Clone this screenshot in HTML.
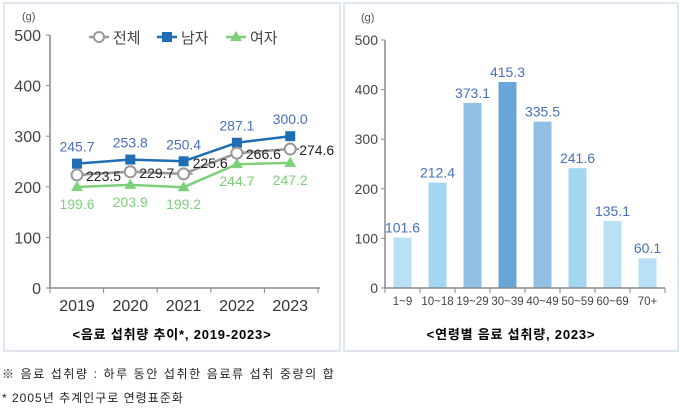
<!DOCTYPE html>
<html><head><meta charset="utf-8"><style>
body{margin:0;background:#fff;width:680px;height:409px;overflow:hidden;font-family:"Liberation Sans","Noto Sans CJK KR",sans-serif}
svg text{font-family:"Liberation Sans","Noto Sans CJK KR",sans-serif}
</style></head><body>
<svg width="680" height="409">
<rect x="4" y="3" width="336" height="348" fill="none" stroke="#dfe6ef" stroke-width="2"/>
<rect x="344" y="3" width="334" height="348" fill="none" stroke="#dfe6ef" stroke-width="2"/>
<g id="left"></g>
<g id="right"></g>
<text x="172" y="339" text-anchor="middle" font-size="13" font-weight="bold" letter-spacing="0.8">&lt;음료 섭취량 추이*, 2019-2023&gt;</text>
<text x="511" y="339" text-anchor="middle" font-size="13" font-weight="bold" letter-spacing="0.8">&lt;연령별 음료 섭취량, 2023&gt;</text>
<text x="2" y="378" font-size="12" fill="#222" letter-spacing="1.6">※ 음료 섭취량 : 하루 동안 섭취한 음료류 섭취 중량의 합</text>
<text x="2" y="402" font-size="12" fill="#222" letter-spacing="1">* 2005년 추계인구로 연령표준화</text>
</svg>
<script>
const years=["2019","2020","2021","2022","2023"];
const total=[223.5,229.7,225.6,266.6,274.6];
const male=[245.7,253.8,250.4,287.1,300.0];
const female=[199.6,203.9,199.2,244.7,247.2];
const yTicks=[0,100,200,300,400,500];
const ages=["1~9","10~18","19~29","30~39","40~49","50~59","60~69","70+"];
const intake=[101.6,212.4,373.1,415.3,335.5,241.6,135.1,60.1];
const barColors=["#b9e0f4","#a3d6f1","#90bfe3","#6aa6d5","#90bfe3","#a3d6f1","#b9e0f4","#b9e0f4"];
const NS="http://www.w3.org/2000/svg";
function mk(p,t,a,txt){const e=document.createElementNS(NS,t);for(const k in a)e.setAttribute(k,a[k]);if(txt!==undefined)e.textContent=txt;p.appendChild(e);return e;}
// left
const L=document.getElementById('left');
const ly=v=>288-v*0.506, lx=i=>77+i*53.3;
mk(L,'line',{x1:50,y1:35,x2:50,y2:288,stroke:'#888','stroke-width':1.5});
mk(L,'line',{x1:50,y1:288,x2:320,y2:288,stroke:'#888','stroke-width':1.5});
mk(L,'text',{x:22,y:20,'font-size':11,fill:'#555'},'(g)');
yTicks.forEach(v=>{mk(L,'line',{x1:46,y1:ly(v),x2:50,y2:ly(v),stroke:'#888'});
const t=mk(L,'text',{x:41,y:ly(v)+6,'text-anchor':'end','font-size':16,fill:'#444'},v);
});
for(let i=0;i<=5;i++){mk(L,'line',{x1:50+i*53.6,y1:288,x2:50+i*53.6,y2:293,stroke:'#888'});}
years.forEach((y,i)=>{const t=mk(L,'text',{x:lx(i),y:311,'text-anchor':'middle','font-size':16,fill:'#333'},y);
});
function pts(a){return a.map((v,i)=>lx(i)+','+ly(v)).join(' ');}
const gm=mk(L,'polyline',{points:pts(male),fill:'none',stroke:'#1f6db3','stroke-width':2.5});

const gf=mk(L,'polyline',{points:pts(female),fill:'none',stroke:'#7ecf7a','stroke-width':2.5});

const gt=mk(L,'polyline',{points:pts(total),fill:'none',stroke:'#999','stroke-width':2.5});

male.forEach((v,i)=>{const r=mk(L,'rect',{x:lx(i)-5,y:ly(v)-5,width:10,height:10,fill:'#1f6db3'});

mk(L,'text',{x:lx(i),y:ly(v)-12,'text-anchor':'middle','font-size':14,fill:'#4a6fbf'},v.toFixed(1));});
female.forEach((v,i)=>{const p=mk(L,'polygon',{points:`${lx(i)},${ly(v)-6} ${lx(i)-6},${ly(v)+4} ${lx(i)+6},${ly(v)+4}`,fill:'#7ecf7a'});

mk(L,'text',{x:lx(i),y:ly(v)+22,'text-anchor':'middle','font-size':14,fill:'#7ecf7a'},v.toFixed(1));});
total.forEach((v,i)=>{mk(L,'line',{x1:lx(i)+5,y1:ly(v),x2:lx(i)+9,y2:ly(v),stroke:'#999','stroke-width':2});
const c=mk(L,'circle',{cx:lx(i),cy:ly(v),r:5.5,fill:'#fff',stroke:'#999','stroke-width':2});

mk(L,'text',{x:lx(i)+9,y:ly(v)+(i==2?-6:6),'font-size':14,fill:'#222'},v.toFixed(1));});
// legend
const lg=mk(L,'g',{});
mk(lg,'line',{x1:89,y1:37,x2:109,y2:37,stroke:'#999','stroke-width':2.5});mk(lg,'circle',{cx:99,cy:37,r:5,fill:'#fff',stroke:'#999','stroke-width':2});
mk(lg,'text',{x:113,y:43,'font-size':15,fill:'#444'},'전체');
mk(lg,'line',{x1:157,y1:37,x2:177,y2:37,stroke:'#1f6db3','stroke-width':2.5});mk(lg,'rect',{x:162,y:32,width:10,height:10,fill:'#1f6db3'});
mk(lg,'text',{x:181,y:43,'font-size':15,fill:'#444'},'남자');
mk(lg,'line',{x1:226,y1:37,x2:246,y2:37,stroke:'#7ecf7a','stroke-width':2.5});mk(lg,'polygon',{points:'236,31 230,41 242,41',fill:'#7ecf7a'});
mk(lg,'text',{x:250,y:43,'font-size':15,fill:'#444'},'여자');
// right
const R=document.getElementById('right');
const ry=v=>288-v*0.496, rx=i=>385+17.5+i*35;
mk(R,'text',{x:361,y:21,'font-size':11,fill:'#555'},'(g)');
yTicks.forEach(v=>{mk(R,'line',{x1:381,y1:ry(v),x2:385,y2:ry(v),stroke:'#888'});
const t=mk(R,'text',{x:378,y:ry(v)+5,'text-anchor':'end','font-size':14,fill:'#444'},v);
});
intake.forEach((v,i)=>{const b=mk(R,'rect',{x:rx(i)-9,y:ry(v),width:18,height:v*0.496,fill:barColors[i]});

mk(R,'text',{x:rx(i),y:ry(v)-5,'text-anchor':'middle','font-size':14,fill:'#4a6fbf'},v.toFixed(1));
const t=mk(R,'text',{x:rx(i),y:305,'text-anchor':'middle','font-size':11.5,fill:'#444'},ages[i]);
});
for(let i=0;i<=8;i++)mk(R,'line',{x1:385+i*35,y1:288,x2:385+i*35,y2:293,stroke:'#888'});
mk(R,'line',{x1:385,y1:40,x2:385,y2:288,stroke:'#888','stroke-width':1.5});
mk(R,'line',{x1:385,y1:288,x2:665,y2:288,stroke:'#888','stroke-width':1.5});
</script>
</body></html>
